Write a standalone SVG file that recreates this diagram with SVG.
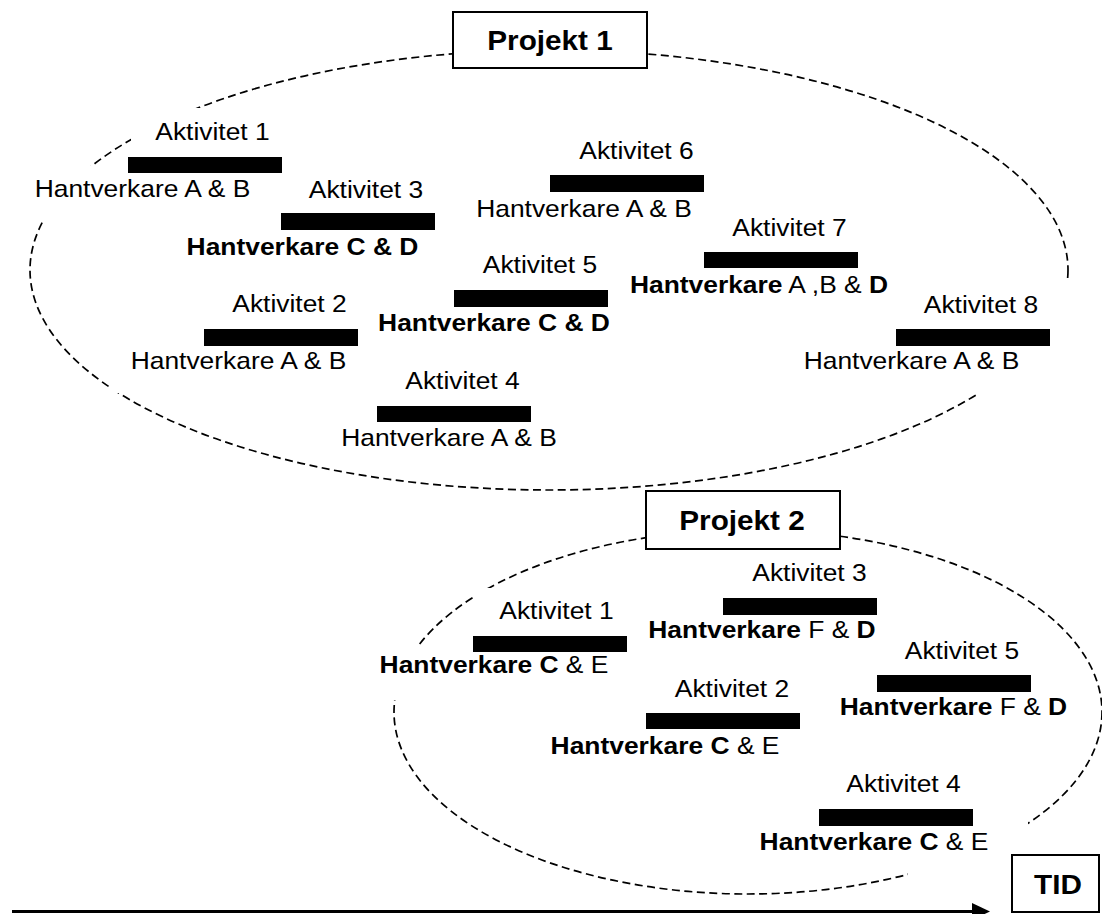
<svg xmlns="http://www.w3.org/2000/svg" width="1102" height="914" viewBox="0 0 1102 914">
  <style>
    text { font-family: "Liberation Sans", Arial, Helvetica, sans-serif; fill: #000; }
    .lbl { font-size: 24px; text-anchor: middle; }
    .b { font-weight: bold; }
    .title { font-size: 27px; font-weight: bold; text-anchor: middle; }
    .bar { fill: #000; }
    .boundary { fill: none; stroke: #000; stroke-width: 1.7; stroke-dasharray: 8 4.5; }
    .box { fill: #fff; stroke: #000; stroke-width: 2; }
    .axis { stroke: #000; stroke-width: 3; fill: none; }
  </style>
  <defs>
    <marker id="arrowhead" markerUnits="userSpaceOnUse" markerWidth="18" markerHeight="17" refX="4" refY="8.5" orient="auto">
      <path d="M0,0 L18,8.5 L0,17 Z" fill="#000"/>
    </marker>
    <!-- the dashed boundaries break where they pass behind the labels -->
    <mask id="cut1" maskUnits="userSpaceOnUse" x="0" y="0" width="1102" height="914">
      <rect width="1102" height="914" fill="#fff"/>
      <rect x="131" y="108" width="160" height="45" fill="#000"/>
      <rect x="25" y="166" width="235" height="55" fill="#000"/>
      <rect x="110" y="340" width="250" height="53" fill="#000"/>
      <rect x="890" y="278" width="190" height="116" fill="#000"/>
    </mask>
    <mask id="cut2" maskUnits="userSpaceOnUse" x="0" y="0" width="1102" height="914">
      <rect width="1102" height="914" fill="#fff"/>
      <rect x="474" y="588" width="170" height="45" fill="#000"/>
      <rect x="370" y="645" width="250" height="55" fill="#000"/>
      <rect x="908" y="815" width="120" height="70" fill="#000"/>
    </mask>
  </defs>

  <!-- Projekt 1 -->
  <g id="projekt1">
    <ellipse class="boundary" cx="549" cy="270" rx="519" ry="220" mask="url(#cut1)"/>
    <rect class="box" x="453" y="12" width="194" height="56"/>
    <text class="title" x="500" y="50" transform="scale(1.1 1)">Projekt 1</text>
  </g>

  <g id="p1-aktivitet1">
    <text class="lbl" x="193.18" y="140" transform="scale(1.1 1)">Aktivitet 1</text>
    <rect class="bar" x="128" y="157" width="154" height="16"/>
    <text class="lbl" x="129.55" y="197" transform="scale(1.1 1)">Hantverkare A &amp; B</text>
  </g>
  <g id="p1-aktivitet2">
    <text class="lbl" x="263.18" y="312" transform="scale(1.1 1)">Aktivitet 2</text>
    <rect class="bar" x="204" y="329" width="154" height="17"/>
    <text class="lbl" x="216.82" y="369" transform="scale(1.1 1)">Hantverkare A &amp; B</text>
  </g>
  <g id="p1-aktivitet3">
    <text class="lbl" x="332.73" y="198" transform="scale(1.1 1)">Aktivitet 3</text>
    <rect class="bar" x="281" y="213" width="154" height="17"/>
    <text class="lbl b" x="275" y="255" transform="scale(1.1 1)">Hantverkare C &amp; D</text>
  </g>
  <g id="p1-aktivitet4">
    <text class="lbl" x="420.45" y="389" transform="scale(1.1 1)">Aktivitet 4</text>
    <rect class="bar" x="377" y="406" width="154" height="16"/>
    <text class="lbl" x="408.18" y="446" transform="scale(1.1 1)">Hantverkare A &amp; B</text>
  </g>
  <g id="p1-aktivitet5">
    <text class="lbl" x="490.91" y="273" transform="scale(1.1 1)">Aktivitet 5</text>
    <rect class="bar" x="454" y="290" width="154" height="17"/>
    <text class="lbl b" x="449.09" y="331" transform="scale(1.1 1)">Hantverkare C &amp; D</text>
  </g>
  <g id="p1-aktivitet6">
    <text class="lbl" x="578.64" y="159" transform="scale(1.1 1)">Aktivitet 6</text>
    <rect class="bar" x="550" y="175" width="154" height="17"/>
    <text class="lbl" x="530.91" y="217" transform="scale(1.1 1)">Hantverkare A &amp; B</text>
  </g>
  <g id="p1-aktivitet7">
    <text class="lbl" x="717.73" y="236" transform="scale(1.1 1)">Aktivitet 7</text>
    <rect class="bar" x="704" y="252" width="154" height="16"/>
    <text class="lbl" x="690" y="293" transform="scale(1.1 1)"><tspan class="b">Hantverkare</tspan> A ,B &amp; <tspan class="b">D</tspan></text>
  </g>
  <g id="p1-aktivitet8">
    <text class="lbl" x="891.82" y="313" transform="scale(1.1 1)">Aktivitet 8</text>
    <rect class="bar" x="896" y="329" width="154" height="17"/>
    <text class="lbl" x="828.64" y="369" transform="scale(1.1 1)">Hantverkare A &amp; B</text>
  </g>

  <!-- Projekt 2 -->
  <g id="projekt2">
    <ellipse class="boundary" cx="748" cy="712" rx="354" ry="182" mask="url(#cut2)"/>
    <rect class="box" x="646" y="491" width="194" height="58"/>
    <text class="title" x="674.55" y="530" transform="scale(1.1 1)">Projekt 2</text>
  </g>

  <g id="p2-aktivitet1">
    <text class="lbl" x="505.91" y="619" transform="scale(1.1 1)">Aktivitet 1</text>
    <rect class="bar" x="473" y="636" width="154" height="16"/>
    <text class="lbl" x="449.09" y="673" transform="scale(1.1 1)"><tspan class="b">Hantverkare C</tspan> &amp; E</text>
  </g>
  <g id="p2-aktivitet2">
    <text class="lbl" x="665.45" y="697" transform="scale(1.1 1)">Aktivitet 2</text>
    <rect class="bar" x="646" y="713" width="154" height="16"/>
    <text class="lbl" x="604.55" y="754" transform="scale(1.1 1)"><tspan class="b">Hantverkare C</tspan> &amp; E</text>
  </g>
  <g id="p2-aktivitet3">
    <text class="lbl" x="735.91" y="581" transform="scale(1.1 1)">Aktivitet 3</text>
    <rect class="bar" x="723" y="598" width="154" height="17"/>
    <text class="lbl" x="692.73" y="638" transform="scale(1.1 1)"><tspan class="b">Hantverkare</tspan> F &amp; <tspan class="b">D</tspan></text>
  </g>
  <g id="p2-aktivitet4">
    <text class="lbl" x="821.36" y="792" transform="scale(1.1 1)">Aktivitet 4</text>
    <rect class="bar" x="819" y="809" width="154" height="17"/>
    <text class="lbl" x="794.55" y="850" transform="scale(1.1 1)"><tspan class="b">Hantverkare C</tspan> &amp; E</text>
  </g>
  <g id="p2-aktivitet5">
    <text class="lbl" x="874.55" y="659" transform="scale(1.1 1)">Aktivitet 5</text>
    <rect class="bar" x="877" y="675" width="154" height="17"/>
    <text class="lbl" x="866.82" y="715" transform="scale(1.1 1)"><tspan class="b">Hantverkare</tspan> F &amp; <tspan class="b">D</tspan></text>
  </g>

  <!-- time axis -->
  <g id="tid">
    <rect class="box" x="1012" y="855" width="87" height="57"/>
    <text class="title" x="961.82" y="894" transform="scale(1.1 1)">TID</text>
  </g>
  <g id="connectors">
    <line class="axis" x1="12" y1="911.5" x2="976" y2="911.5" marker-end="url(#arrowhead)"/>
  </g>
</svg>
